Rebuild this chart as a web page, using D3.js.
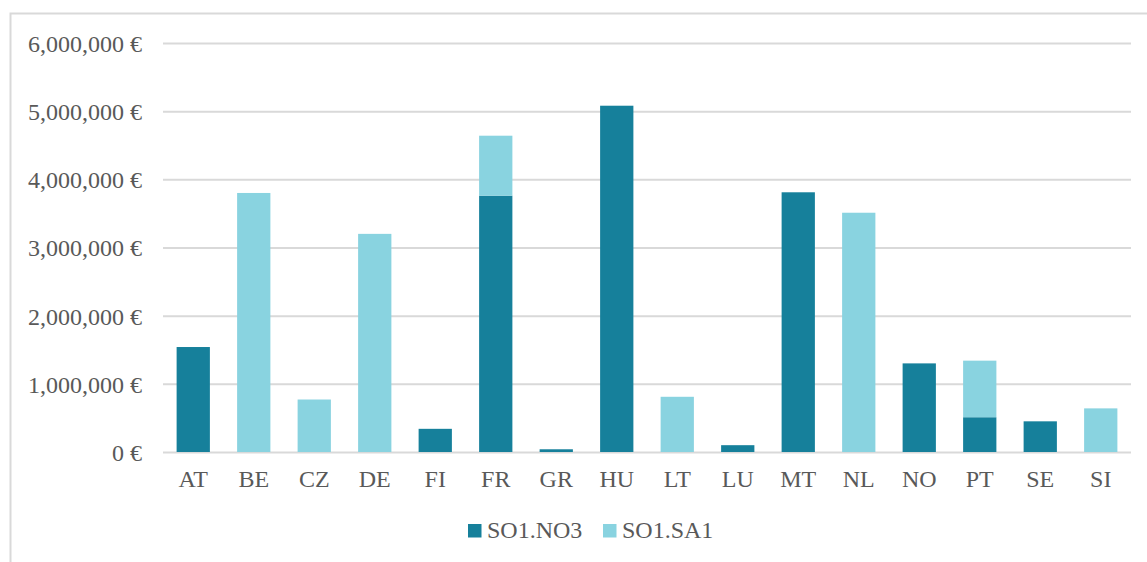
<!DOCTYPE html>
<html><head><meta charset="utf-8">
<script src="https://cdn.jsdelivr.net/npm/d3@7"></script>
<style>body{margin:0;background:#fff}svg{display:block}</style>
</head><body><svg id="c" width="1147" height="562"></svg>
<script>
const categories = ["AT","BE","CZ","DE","FI","FR","GR","HU","LT","LU","MT","NL","NO","PT","SE","SI"];
const no3 = [1540000,0,0,0,340000,3760000,40000,5080000,0,100000,3810000,0,1300000,510000,450000,0];
const sa1 = [0,3800000,770000,3200000,0,880000,0,0,810000,0,0,3510000,0,830000,0,640000];
const seriesNames = ["SO1.NO3","SO1.SA1"];
const colors = ["#16809b","#89d3e0"];
const yTicks = [0,1000000,2000000,3000000,4000000,5000000,6000000];

const FONT = "'Liberation Serif','Times New Roman','DejaVu Serif',serif";
const FS = "24px";
const svg = d3.select("#c");
svg.append("rect").attr("x",10.5).attr("y",13.5).attr("width",1140).attr("height",600)
  .attr("fill","none").attr("stroke","#d9d9d9").attr("stroke-width",2);

const x = d3.scaleBand().domain(categories).range([163,1131]).paddingInner(0.45).paddingOuter(0.225);
const y = d3.scaleLinear().domain([0,6000000]).range([452,43]);

const fmt = d3.format(",");
const yAxis = svg.append("g").attr("transform","translate(163,0)")
  .call(d3.axisLeft(y).tickValues(yTicks).tickSize(-968).tickPadding(21).tickFormat(d=>fmt(d)+" €"));
yAxis.attr("font-family",FONT).attr("font-size",FS);
yAxis.select(".domain").remove();
yAxis.selectAll("line").attr("stroke","#d9d9d9").attr("stroke-width",2);
yAxis.selectAll("text").attr("fill","#595959").attr("dy","0.35em");

const data = categories.map((c,i)=>({cat:c, "SO1.NO3":no3[i], "SO1.SA1":sa1[i]}));
const stack = d3.stack().keys(seriesNames)(data);
svg.append("g").selectAll("g").data(stack).join("g").attr("fill",(d,i)=>colors[i])
  .selectAll("rect").data(d=>d).join("rect")
  .attr("x",d=>x(d.data.cat)).attr("width",x.bandwidth())
  .attr("y",d=>y(d[1])).attr("height",d=>y(d[0])-y(d[1]));

const xAxis = svg.append("g").attr("transform","translate(0,452)")
  .call(d3.axisBottom(x).tickSize(0).tickPadding(35));
xAxis.attr("font-family",FONT).attr("font-size",FS);
xAxis.select(".domain").remove();
xAxis.selectAll("text").attr("fill","#595959").attr("dy","0");

const leg = svg.append("g").attr("font-family",FONT).attr("font-size",FS);
const legX = [468,603];
seriesNames.forEach((s,i)=>{
  leg.append("rect").attr("x",legX[i]).attr("y",524).attr("width",13.5).attr("height",13.5).attr("fill",colors[i]);
  leg.append("text").attr("x",legX[i]+19).attr("y",538).attr("fill","#595959").text(s);
});
</script></body></html>
